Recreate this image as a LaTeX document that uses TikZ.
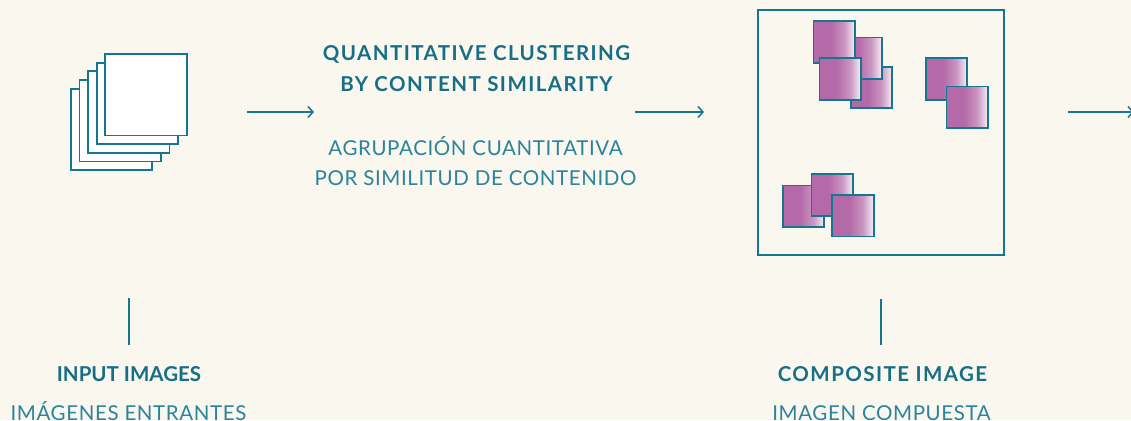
\documentclass[tikz,border=0pt]{standalone}
\usepackage{fontspec}
\setmainfont{Lato}
\newfontfamily\spacedbold[LetterSpace=7]{Lato}
\newfontfamily\spacedlight[LetterSpace=3]{Lato}
\usetikzlibrary{arrows.meta}
\definecolor{bg}{RGB}{250,247,239}
\definecolor{tl}{RGB}{20,118,143}
\definecolor{tltext}{RGB}{22,110,135}
\definecolor{tllight}{RGB}{42,132,156}
\definecolor{pk}{RGB}{180,106,168}
\pgfdeclarehorizontalshading{pinkfade}{100bp}{color(0bp)=(pk); color(25bp)=(pk); color(46bp)=(pk); color(62bp)=(pk!70!white); color(75bp)=(pk!10!white); color(100bp)=(pk!10!white)}
\tikzset{
  imgsq/.style={rectangle, draw=tl, line width=1.8pt, fill=white, minimum size=81.5pt, inner sep=0pt},
  clsq/.style={rectangle, draw=tl, line width=1.6pt, shading=pinkfade, minimum size=41.5pt, inner sep=0pt},
  frame/.style={rectangle, draw=tl, line width=1.8pt, minimum width=246pt, minimum height=245pt, inner sep=0pt},
  flow/.style={draw=tl, line width=1.5pt, -{Straight Barb[length=5pt,width=11pt,line width=1.5pt]}},
  vline/.style={draw=tl, line width=1.8pt},
  titlef/.style={text=tltext, font=\spacedbold\bfseries\fontsize{20.5}{24}\selectfont, inner sep=0pt, anchor=base},
  labb/.style={text=tltext, font=\bfseries\fontsize{20.5}{24}\selectfont, inner sep=0pt, anchor=base},
  labbs/.style={text=tltext, font=\spacedbold\bfseries\fontsize{20.5}{24}\selectfont, inner sep=0pt, anchor=base},
  subf/.style={text=tllight, font=\spacedlight\fontsize{20.5}{24}\selectfont, inner sep=0pt, anchor=base},
}
\begin{document}
\begin{tikzpicture}[x=1pt,y=-1pt]
\useasboundingbox (0,0) rectangle (1131,420);
\fill[bg] (0,0) rectangle (1131,420);
% stack of input images
\foreach \i in {0,...,4}{
  \node[imgsq] (s\i) at ({111.5+8.65*\i},{129.35-8.65*\i}) {};
}
% composite frame
\node[frame] (comp) at (881,132.5) {};
% cluster 1
\node[clsq] (ca) at (871.5,87.5) {};
\node[clsq] (cb) at (861.3,58.3) {};
\node[clsq] (cc) at (834.3,42) {};
\node[clsq] (cd) at (840.2,79) {};
% cluster 2
\node[clsq] (ce) at (946.5,79) {};
\node[clsq] (cf) at (967.3,107.2) {};
% cluster 3
\node[clsq] (cg) at (803.5,206.2) {};
\node[clsq] (ch) at (832.2,195) {};
\node[clsq] (ci) at (853,215.7) {};
% texts
\node[titlef] (t1) at (476.5,60) {QUANTITATIVE CLUSTERING};
\node[titlef] (t2) at (476.5,91.5) {BY CONTENT SIMILARITY};
\node[subf] (t3) at (475.5,155) {AGRUPACIÓN CUANTITATIVA};
\node[subf] (t4) at (475.5,185) {POR SIMILITUD DE CONTENIDO};
\node[labb] (l1) at (129,381) {INPUT IMAGES};
\node[subf] (l2) at (128.5,420) {IMÁGENES ENTRANTES};
\node[labbs] (l3) at (882.5,381.5) {COMPOSITE IMAGE};
\node[subf] (l4) at (881.5,420) {IMAGEN COMPUESTA};
% arrows
\coordinate (a1s) at (247,112);
\coordinate (a1e) at (314,112);
\coordinate (a2s) at (635,112);
\coordinate (a2e) at (704,112);
\coordinate (a3s) at (1068,112);
\coordinate (a3e) at (1134,112);
\draw[flow] (a1s) -- (a1e);
\draw[flow] (a2s) -- (a2e);
\draw[flow] (a3s) -- (a3e);
% vertical lines
\coordinate (v1a) at (129,298);
\coordinate (v1b) at (129,345);
\coordinate (v2a) at (881,299);
\coordinate (v2b) at (881,345);
\draw[vline] (v1a) -- (v1b);
\draw[vline] (v2a) -- (v2b);
\end{tikzpicture}
\end{document}
